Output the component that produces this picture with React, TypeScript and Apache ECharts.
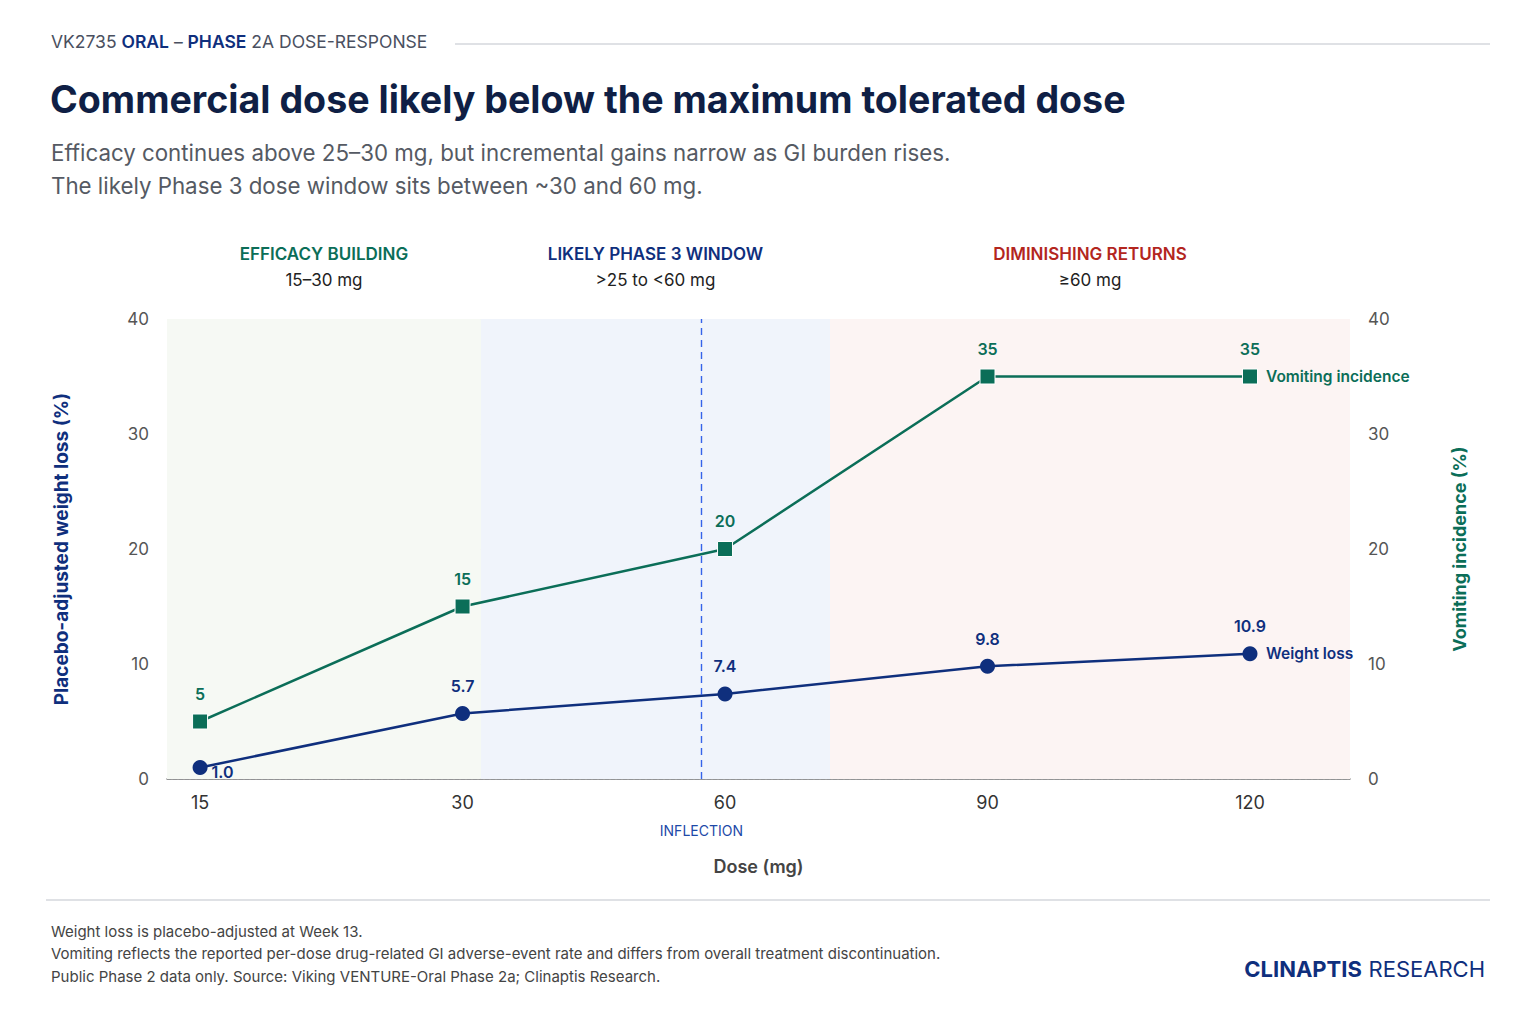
import { useEffect, useRef } from "react";
import * as echarts from "echarts";

// dose categories and readings from the Phase 2a chart
const doses = ["15", "30", "60", "90", "120"];
const weightLoss = [1.0, 5.7, 7.4, 9.8, 10.9];
const vomiting = [5, 15, 20, 35, 35];
const yTicks = [0, 10, 20, 30, 40];

// dose zones (in category index units along the x axis)
const zoneNames = ["EFFICACY BUILDING", "LIKELY PHASE 3 WINDOW", "DIMINISHING RETURNS"];
const zoneRanges = ["15–30 mg", ">25 to <60 mg", "≥60 mg"];
const zoneStart = [-0.126, 1.07, 2.4];
const zoneEnd = [1.07, 2.4, 4.381];
const inflectionAt = 1.91; // just below the 60 mg point

const notes = [
  "Weight loss is placebo-adjusted at Week 13.",
  "Vomiting reflects the reported per-dose drug-related GI adverse-event rate and differs from overall treatment discontinuation.",
  "Public Phase 2 data only. Source: Viking VENTURE-Oral Phase 2a; Clinaptis Research.",
];

const NAVY = "#0f2f7d";
const TEAL = "#0b6e58";
const RED = "#b3261e";
const DASH_BLUE = "#3563e9";
const FONT = "Inter, 'Noto Sans', sans-serif";
const zoneFill = ["#f6f9f4", "#f0f4fb", "#fcf4f3"];
const zoneColor = [TEAL, NAVY, RED];

const App = () => {
  const chartRef = useRef<HTMLDivElement>(null);

  useEffect(() => {
    document.body.style.margin = "0";
    if (!chartRef.current) return;
    const chart = echarts.init(chartRef.current, null, { renderer: "svg" });

    const option: echarts.EChartsOption = {
      animation: false,
      backgroundColor: "#ffffff",
      textStyle: { fontFamily: FONT },
      grid: { left: 167, right: 186, top: 319, bottom: 245 },
      xAxis: {
        type: "value",
        min: zoneStart[0],
        max: zoneEnd[2],
        name: "Dose (mg)",
        nameLocation: "middle",
        nameGap: 78,
        nameTextStyle: { fontSize: 18, fontWeight: 600, color: "#444" },
        axisLine: { lineStyle: { color: "#7a7a7a", width: 1.5 } },
        axisTick: { show: false },
        splitLine: { show: false },
        axisLabel: {
          customValues: doses.map((_, i) => i),
          formatter: (v: number) => doses[Math.round(v)] ?? "",
          fontSize: 18,
          color: "#333",
          margin: 14,
        },
      },
      yAxis: [
        {
          type: "value",
          min: yTicks[0],
          max: yTicks[yTicks.length - 1],
          interval: 10,
          name: "Placebo-adjusted weight loss (%)",
          nameLocation: "middle",
          nameGap: 96,
          nameTextStyle: { fontSize: 19, fontWeight: "bold", color: NAVY },
          axisLine: { show: false },
          axisTick: { show: false },
          axisLabel: { fontSize: 17, color: "#555", margin: 18 },
          splitLine: { lineStyle: { color: "#dadee6", type: "dashed", width: 1 } },
        },
        {
          type: "value",
          min: yTicks[0],
          max: yTicks[yTicks.length - 1],
          interval: 10,
          name: "Vomiting incidence (%)",
          nameLocation: "middle",
          nameGap: 100,
          nameRotate: 90,
          nameTextStyle: { fontSize: 18, fontWeight: "bold", color: TEAL },
          axisLine: { show: false },
          axisTick: { show: false },
          axisLabel: { fontSize: 17, color: "#555", margin: 18 },
          splitLine: { show: false },
        },
      ],
      series: [
        {
          name: "Vomiting incidence",
          type: "line",
          yAxisIndex: 1,
          data: vomiting.map((v, i) => [i, v]),
          symbol: "rect",
          symbolSize: 15,
          z: 3,
          lineStyle: { color: TEAL, width: 2.5 },
          itemStyle: { color: TEAL, borderColor: "#ffffff", borderWidth: 1 },
          label: {
            show: true,
            position: "top",
            distance: 12,
            formatter: (p: any) => String(p.value[1]),
            color: TEAL,
            fontSize: 16,
            fontWeight: 600,
          },
          endLabel: {
            show: true,
            formatter: "Vomiting incidence",
            distance: 16,
            color: TEAL,
            fontSize: 15.5,
            fontWeight: 600,
          },
          markArea: {
            silent: true,
            data: zoneNames.map((name, i) => [
              {
                xAxis: zoneStart[i],
                itemStyle: { color: zoneFill[i] },
                label: {
                  show: true,
                  position: "top",
                  distance: 26,
                  formatter: `{h|${name}}\n{r|${zoneRanges[i]}}`,
                  rich: {
                    h: { fontSize: 17, fontWeight: 600, color: zoneColor[i], lineHeight: 26, fontFamily: FONT },
                    r: { fontSize: 17, color: "#222", lineHeight: 26, fontFamily: FONT },
                  },
                },
              },
              { xAxis: zoneEnd[i] },
            ]) as any,
          },
        },
        {
          name: "Weight loss",
          type: "line",
          yAxisIndex: 0,
          data: weightLoss.map((v, i) =>
            i === 0
              ? { value: [i, v], label: { position: "right", distance: 4, offset: [0, 4] } }
              : [i, v]
          ) as any,
          symbol: "circle",
          symbolSize: 15,
          z: 4,
          lineStyle: { color: NAVY, width: 2.5 },
          itemStyle: { color: NAVY },
          label: {
            show: true,
            position: "top",
            distance: 12,
            formatter: (p: any) => p.value[1].toFixed(1),
            color: NAVY,
            fontSize: 16,
            fontWeight: 600,
          },
          endLabel: {
            show: true,
            formatter: "Weight loss",
            distance: 16,
            color: NAVY,
            fontSize: 15.5,
            fontWeight: 600,
          },
          markLine: {
            silent: true,
            symbol: "none",
            lineStyle: { color: DASH_BLUE, type: [7, 5], width: 1.4, opacity: 1 },
            label: {
              show: true,
              position: "start",
              distance: 44,
              formatter: "INFLECTION",
              color: "#1d49a8",
              fontSize: 14,
            },
            data: [
              {
                xAxis: inflectionAt,
                lineStyle: { color: DASH_BLUE, type: [7, 5], width: 1.4, opacity: 1 },
              },
            ],
          },
        },
      ],
      graphic: [
        {
          type: "text",
          left: 51,
          top: 32,
          style: {
            text: "{g|VK2735 }{b|ORAL}{g| – }{b|PHASE}{g| 2A DOSE-RESPONSE}",
            rich: {
              g: { fontSize: 17.5, fill: "#4a5060", fontFamily: FONT },
              b: { fontSize: 17.5, fill: NAVY, fontWeight: 600, fontFamily: FONT },
            },
          },
        },
        {
          type: "line",
          shape: { x1: 455, y1: 44, x2: 1490, y2: 44 },
          style: { stroke: "#d4d7dd", lineWidth: 1.5 },
        },
        {
          type: "text",
          left: 50,
          top: 80,
          style: {
            text: "Commercial dose likely below the maximum tolerated dose",
            fontSize: 37.6,
            fontWeight: "bold",
            fill: "#0f1f45",
            fontFamily: FONT,
          },
        },
        {
          type: "text",
          left: 51,
          top: 136,
          style: {
            text:
              "Efficacy continues above 25–30 mg, but incremental gains narrow as GI burden rises.\nThe likely Phase 3 dose window sits between ~30 and 60 mg.",
            fontSize: 22.3,
            lineHeight: 33,
            fill: "#555a63",
            fontFamily: FONT,
          },
        },
        {
          type: "text",
          left: 868,
          top: 479,
          style: {
            text: "{t|60 → 90 mg}\n{s|+2.4 pts weight loss}\n{s|+15 pts vomiting}",
            rich: {
              t: { fontSize: 16, fontWeight: 600, fill: "#111", lineHeight: 26, fontFamily: FONT },
              s: { fontSize: 15, fill: "#333", lineHeight: 26, fontFamily: FONT },
            },
          },
        },
        {
          type: "text",
          left: 1091,
          top: 481,
          style: {
            text: "{t|90 → 120 mg}\n{s|+1.1 pts weight loss}\n{s|No further vomiting increase}",
            rich: {
              t: { fontSize: 16, fontWeight: 600, fill: "#111", lineHeight: 26, fontFamily: FONT },
              s: { fontSize: 15, fill: "#333", lineHeight: 26, fontFamily: FONT },
            },
          },
        },
        {
          type: "line",
          shape: { x1: 46, y1: 900, x2: 1490, y2: 900 },
          style: { stroke: "#d4d7dd", lineWidth: 1.5 },
        },
        {
          type: "text",
          left: 51,
          top: 920,
          style: {
            text: notes.join("\n"),
            fontSize: 15,
            lineHeight: 22.5,
            fill: "#444",
            fontFamily: FONT,
          },
        },
        {
          type: "text",
          right: 51,
          top: 958,
          style: {
            text: "{b|CLINAPTIS}  {r|RESEARCH}",
            rich: {
              b: { fontSize: 22, fontWeight: "bold", fill: NAVY, fontFamily: FONT },
              r: { fontSize: 22, fill: NAVY, fontFamily: FONT },
            },
          },
        },
      ],
    };

    chart.setOption(option);
    return () => {
      chart.dispose();
    };
  }, []);

  return <div ref={chartRef} style={{ width: "1536px", height: "1024px" }} />;
};

export default App;
